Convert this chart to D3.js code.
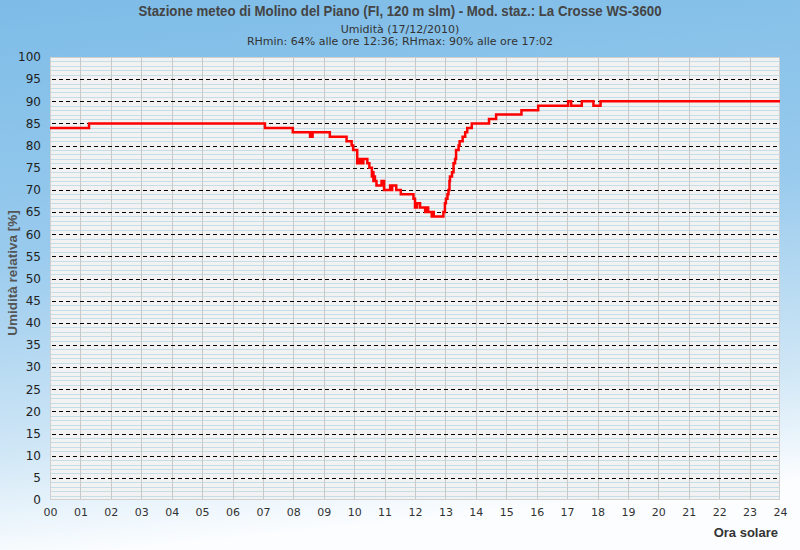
<!DOCTYPE html>
<html>
<head>
<meta charset="utf-8">
<script src="https://cdn.jsdelivr.net/npm/d3@7"></script>
<style>
  html, body { margin: 0; padding: 0; background: #fff; }
  svg { display: block; }
</style>
</head>
<body>
<script>
// ---- data ----
const titleText = "Stazione meteo di Molino del Piano (FI, 120 m slm) - Mod. staz.: La Crosse WS-3600";
const subtitle1 = "Umidità (17/12/2010)";
const subtitle2 = "RHmin: 64% alle ore 12:36; RHmax: 90% alle ore 17:02";
const yAxisTitle = "Umidità relativa [%]";
const xAxisTitle = "Ora solare";

const xTickLabels = ["00","01","02","03","04","05","06","07","08","09","10","11","12",
                     "13","14","15","16","17","18","19","20","21","22","23","24"];
const yTickValues = [0,5,10,15,20,25,30,35,40,45,50,55,60,65,70,75,80,85,90,95,100];

// step changes: time (HH:MM) at which relative humidity takes the value
const times = ["00:00","01:17","07:04","07:59","08:33","08:38","09:12","09:45","09:55","09:58",
  "10:06","10:11","10:15","10:18","10:26","10:30","10:35","10:36","10:38","10:39",
  "10:41","10:44","10:54","10:59","11:11","11:13","11:15","11:23","11:32","11:57",
  "12:00","12:04","12:10","12:20","12:23","12:26","12:33","12:35","12:37","12:56",
  "12:59","13:01","13:04","13:06","13:08","13:09","13:13","13:16","13:19","13:21",
  "13:26","13:28","13:31","13:34","13:39","13:43","13:48","13:52","14:26","14:40",
  "15:30","16:03","17:02","17:08","17:29","17:52","18:06","24:00"];
const rh = [84,85,84,83,82,83,82,81,80,79,
  76,77,76,77,76,75,73,74,72,73,
  72,71,72,70,71,70,71,70,69,68,
  66,67,66,65,66,65,64,65,64,65,
  67,68,69,70,72,73,74,76,77,79,
  80,81,81,82,83,84,84,85,86,87,
  88,89,90,89,90,89,90,90];

// ---- layout ----
const W = 800, H = 550;
const M = { left: 50, right: 780, top: 57, bottom: 500 };

const svg = d3.select("body").append("svg").attr("width", W).attr("height", H);
const defs = svg.append("defs");
const grad = defs.append("linearGradient").attr("id", "bg")
  .attr("x1", 0).attr("y1", 0).attr("x2", 0.15).attr("y2", 1);
[[0, "#7dbce7"], [0.45, "#98caed"], [0.8, "#cfe6f6"], [1, "#fbfdff"]].forEach(s =>
  grad.append("stop").attr("offset", s[0]).attr("stop-color", s[1]));
svg.append("rect").attr("width", W).attr("height", H).attr("fill", "url(#bg)");

const toH = t => { const p = t.split(":"); return +p[0] + (+p[1]) / 60; };
const data = times.map((t, i) => ({ h: toH(t), v: rh[i] }));

const x = d3.scaleLinear().domain([0, 24]).range([M.left, M.right]);
const y = d3.scaleLinear().domain([0, 100]).range([M.bottom, M.top]);

// plot background
svg.append("rect").attr("x", M.left).attr("y", M.top)
  .attr("width", M.right - M.left).attr("height", M.bottom - M.top)
  .attr("fill", "#f2f2f2");

const g = svg.append("g");
// minor horizontal lines every 1%
g.selectAll(".minor").data(d3.range(1, 100).filter(v => v % 5 !== 0)).join("line")
  .attr("x1", M.left).attr("x2", M.right)
  .attr("y1", d => Math.round(y(d)) + 0.5).attr("y2", d => Math.round(y(d)) + 0.5)
  .attr("stroke", "#c3dde9").attr("stroke-width", 1);
// vertical hour lines
g.selectAll(".vl").data(d3.range(1, 24)).join("line")
  .attr("y1", M.top).attr("y2", M.bottom)
  .attr("x1", d => Math.round(x(d)) + 0.5).attr("x2", d => Math.round(x(d)) + 0.5)
  .attr("stroke", "#c8c8c8").attr("stroke-width", 1);
// dashed major lines
g.selectAll(".maj").data(yTickValues.filter(v => v > 0 && v < 100)).join("line")
  .attr("x1", M.left + 2).attr("x2", M.right)
  .attr("y1", d => Math.round(y(d)) + 0.5).attr("y2", d => Math.round(y(d)) + 0.5)
  .attr("stroke", "#000").attr("stroke-width", 1).attr("stroke-dasharray", "4,3");
// border
svg.append("rect").attr("x", M.left + 0.5).attr("y", M.top + 0.5)
  .attr("width", M.right - M.left - 1).attr("height", M.bottom - M.top - 1)
  .attr("fill", "none").attr("stroke", "#d0d0d0").attr("stroke-width", 1);

// data line
const line = d3.line().x(d => x(d.h)).y(d => y(d.v)).curve(d3.curveStepAfter);
svg.append("path").datum(data).attr("d", line)
  .attr("fill", "none").attr("stroke", "#ff0000").attr("stroke-width", 2.5)
  .attr("stroke-linejoin", "miter");

// axes
const yAxis = d3.axisLeft(y).tickValues(yTickValues).tickSize(0).tickPadding(9);
const ya = svg.append("g").attr("transform", `translate(${M.left},0)`).call(yAxis);
ya.select(".domain").remove();
ya.selectAll("text").attr("font-family", "DejaVu Sans").attr("font-size", 12).attr("fill", "#222");

const xAxis = d3.axisBottom(x).tickValues(d3.range(0, 25)).tickFormat((d, i) => xTickLabels[i])
  .tickSize(0).tickPadding(8);
const xa = svg.append("g").attr("transform", `translate(0,${M.bottom})`).call(xAxis);
xa.select(".domain").remove();
xa.selectAll("text").attr("font-family", "DejaVu Sans").attr("font-size", 11).attr("fill", "#333");

// titles
svg.append("text").attr("x", 400).attr("y", 16).attr("text-anchor", "middle")
  .attr("font-family", "Liberation Sans").attr("font-weight", "bold")
  .attr("font-size", 14).attr("fill", "#444")
  .attr("textLength", 523).attr("lengthAdjust", "spacingAndGlyphs").text(titleText);
svg.append("text").attr("x", 400).attr("y", 33).attr("text-anchor", "middle")
  .attr("font-family", "DejaVu Sans").attr("font-size", 11).attr("fill", "#333").text(subtitle1);
svg.append("text").attr("x", 400).attr("y", 45).attr("text-anchor", "middle")
  .attr("font-family", "DejaVu Sans").attr("font-size", 11).attr("fill", "#333").text(subtitle2);

svg.append("text").attr("transform", "translate(17,273) rotate(-90)").attr("text-anchor", "middle")
  .attr("font-family", "Liberation Sans").attr("font-weight", "bold")
  .attr("font-size", 13.5).attr("fill", "#555").text(yAxisTitle);
svg.append("text").attr("x", 778).attr("y", 537).attr("text-anchor", "end")
  .attr("font-family", "Liberation Sans").attr("font-weight", "bold")
  .attr("font-size", 13).attr("fill", "#333").text(xAxisTitle);
</script>
</body>
</html>
